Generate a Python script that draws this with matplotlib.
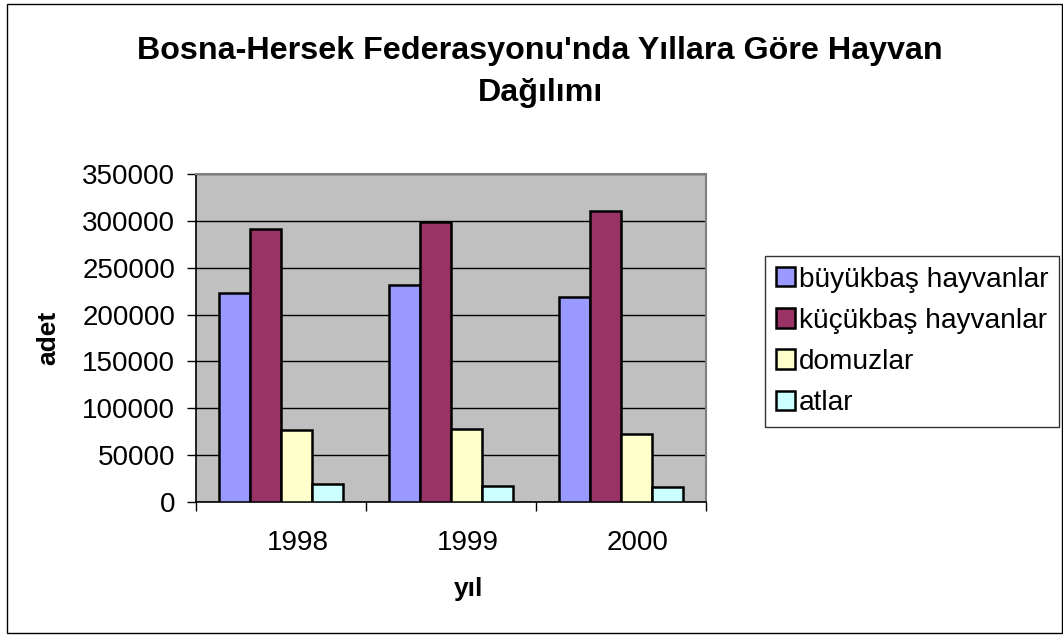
import matplotlib
matplotlib.use("Agg")
import matplotlib.pyplot as plt
import matplotlib.transforms as mtransforms
import numpy as np
from matplotlib.patches import Rectangle

years = ["1998", "1999", "2000"]
series_names = ["büyükbaş hayvanlar", "küçükbaş hayvanlar", "domuzlar", "atlar"]
buyukbas = [223000, 231500, 218800]
kucukbas = [291000, 299000, 311000]
domuzlar = [77000, 77800, 72100]
atlar = [18800, 17400, 16000]
series_values = [buyukbas, kucukbas, domuzlar, atlar]
colors = ["#9999FF", "#993366", "#FFFFCC", "#CCFFFF"]
yticks = [0, 50000, 100000, 150000, 200000, 250000, 300000, 350000]

plt.rcParams['font.family'] = ['Liberation Sans', 'DejaVu Sans']

W, H = 1063, 639
fig = plt.figure(figsize=(W / 100, H / 100), dpi=100)
fig.patch.set_facecolor("white")

# outer chart border
bl, bt, br, bb = 7, 4, 1062, 633
fig.patches.append(Rectangle((bl / W, 1 - bb / H), (br - bl) / W, (bb - bt) / H,
                             transform=fig.transFigure, fill=False,
                             edgecolor="black", linewidth=1.0))

x0, x1, yt, yb = 196, 706, 174, 502
ax = fig.add_axes([x0 / W, 1 - yb / H, (x1 - x0) / W, (yb - yt) / H])
ax.set_facecolor("#C0C0C0")

x = np.arange(len(years))
bw = 0.182
n = len(series_values)
for i, (vals, c, name) in enumerate(zip(series_values, colors, series_names)):
    offs = (i - (n - 1) / 2) * bw
    ax.bar(x + offs, vals, width=bw, color=c, edgecolor="black",
           linewidth=1.8, label=name, zorder=3)

ax.set_xlim(-0.5, len(years) - 0.5)
ax.set_ylim(0, 350000)
ax.set_yticks(yticks)
ax.set_yticklabels([str(v) for v in yticks], fontsize=20)
ax.yaxis.grid(True, color="black", linewidth=1.0, zorder=1)
ax.set_axisbelow(True)

ax.set_xticks(x)
ax.set_xticklabels(years, fontsize=20)
ax.set_xticks(np.arange(-0.5, len(years), 1.0), minor=True)
ax.tick_params(axis="x", which="major", length=0, pad=20.5)
ax.tick_params(axis="x", which="minor", length=6.5, width=1.0, direction="out", color="black")
ax.tick_params(axis="y", length=6.5, width=1.0, direction="out", pad=8.5, color="black")

for s in ["top", "right"]:
    ax.spines[s].set_color("#808080")
    ax.spines[s].set_linewidth(1.5)
for s in ["left", "bottom"]:
    ax.spines[s].set_color("black")
    ax.spines[s].set_linewidth(1.2)

ax.set_ylabel("adet", fontsize=19, fontweight="bold", labelpad=16)
ax.set_xlabel("yıl", fontsize=19, fontweight="bold", labelpad=15)

# Excel-style rightward shift of category labels
shift = mtransforms.ScaledTranslation(17 / 100, 0, fig.dpi_scale_trans)
for lab in ax.get_xticklabels():
    lab.set_transform(lab.get_transform() + shift)
ax.xaxis.label.set_transform(ax.xaxis.label.get_transform() + shift)

fig.text(540 / W, 1 - 72 / H,
         "Bosna-Hersek Federasyonu'nda Yıllara Göre Hayvan\nDağılımı",
         ha="center", va="center", fontsize=23.2, fontweight="bold", linespacing=1.55)

leg = fig.legend(loc="upper left", bbox_to_anchor=(765 / W, 1 - 256 / H),
                 bbox_transform=fig.transFigure, fontsize=20.2, frameon=True,
                 fancybox=False, edgecolor="black", handlelength=0.68,
                 handleheight=0.68, handletextpad=0.15, labelspacing=0.54,
                 borderpad=0.38, borderaxespad=0)
leg.get_frame().set_linewidth(1.0)
for h in leg.legend_handles:
    h.set_linewidth(1.8)

fig.savefig("out.png", dpi=100)
